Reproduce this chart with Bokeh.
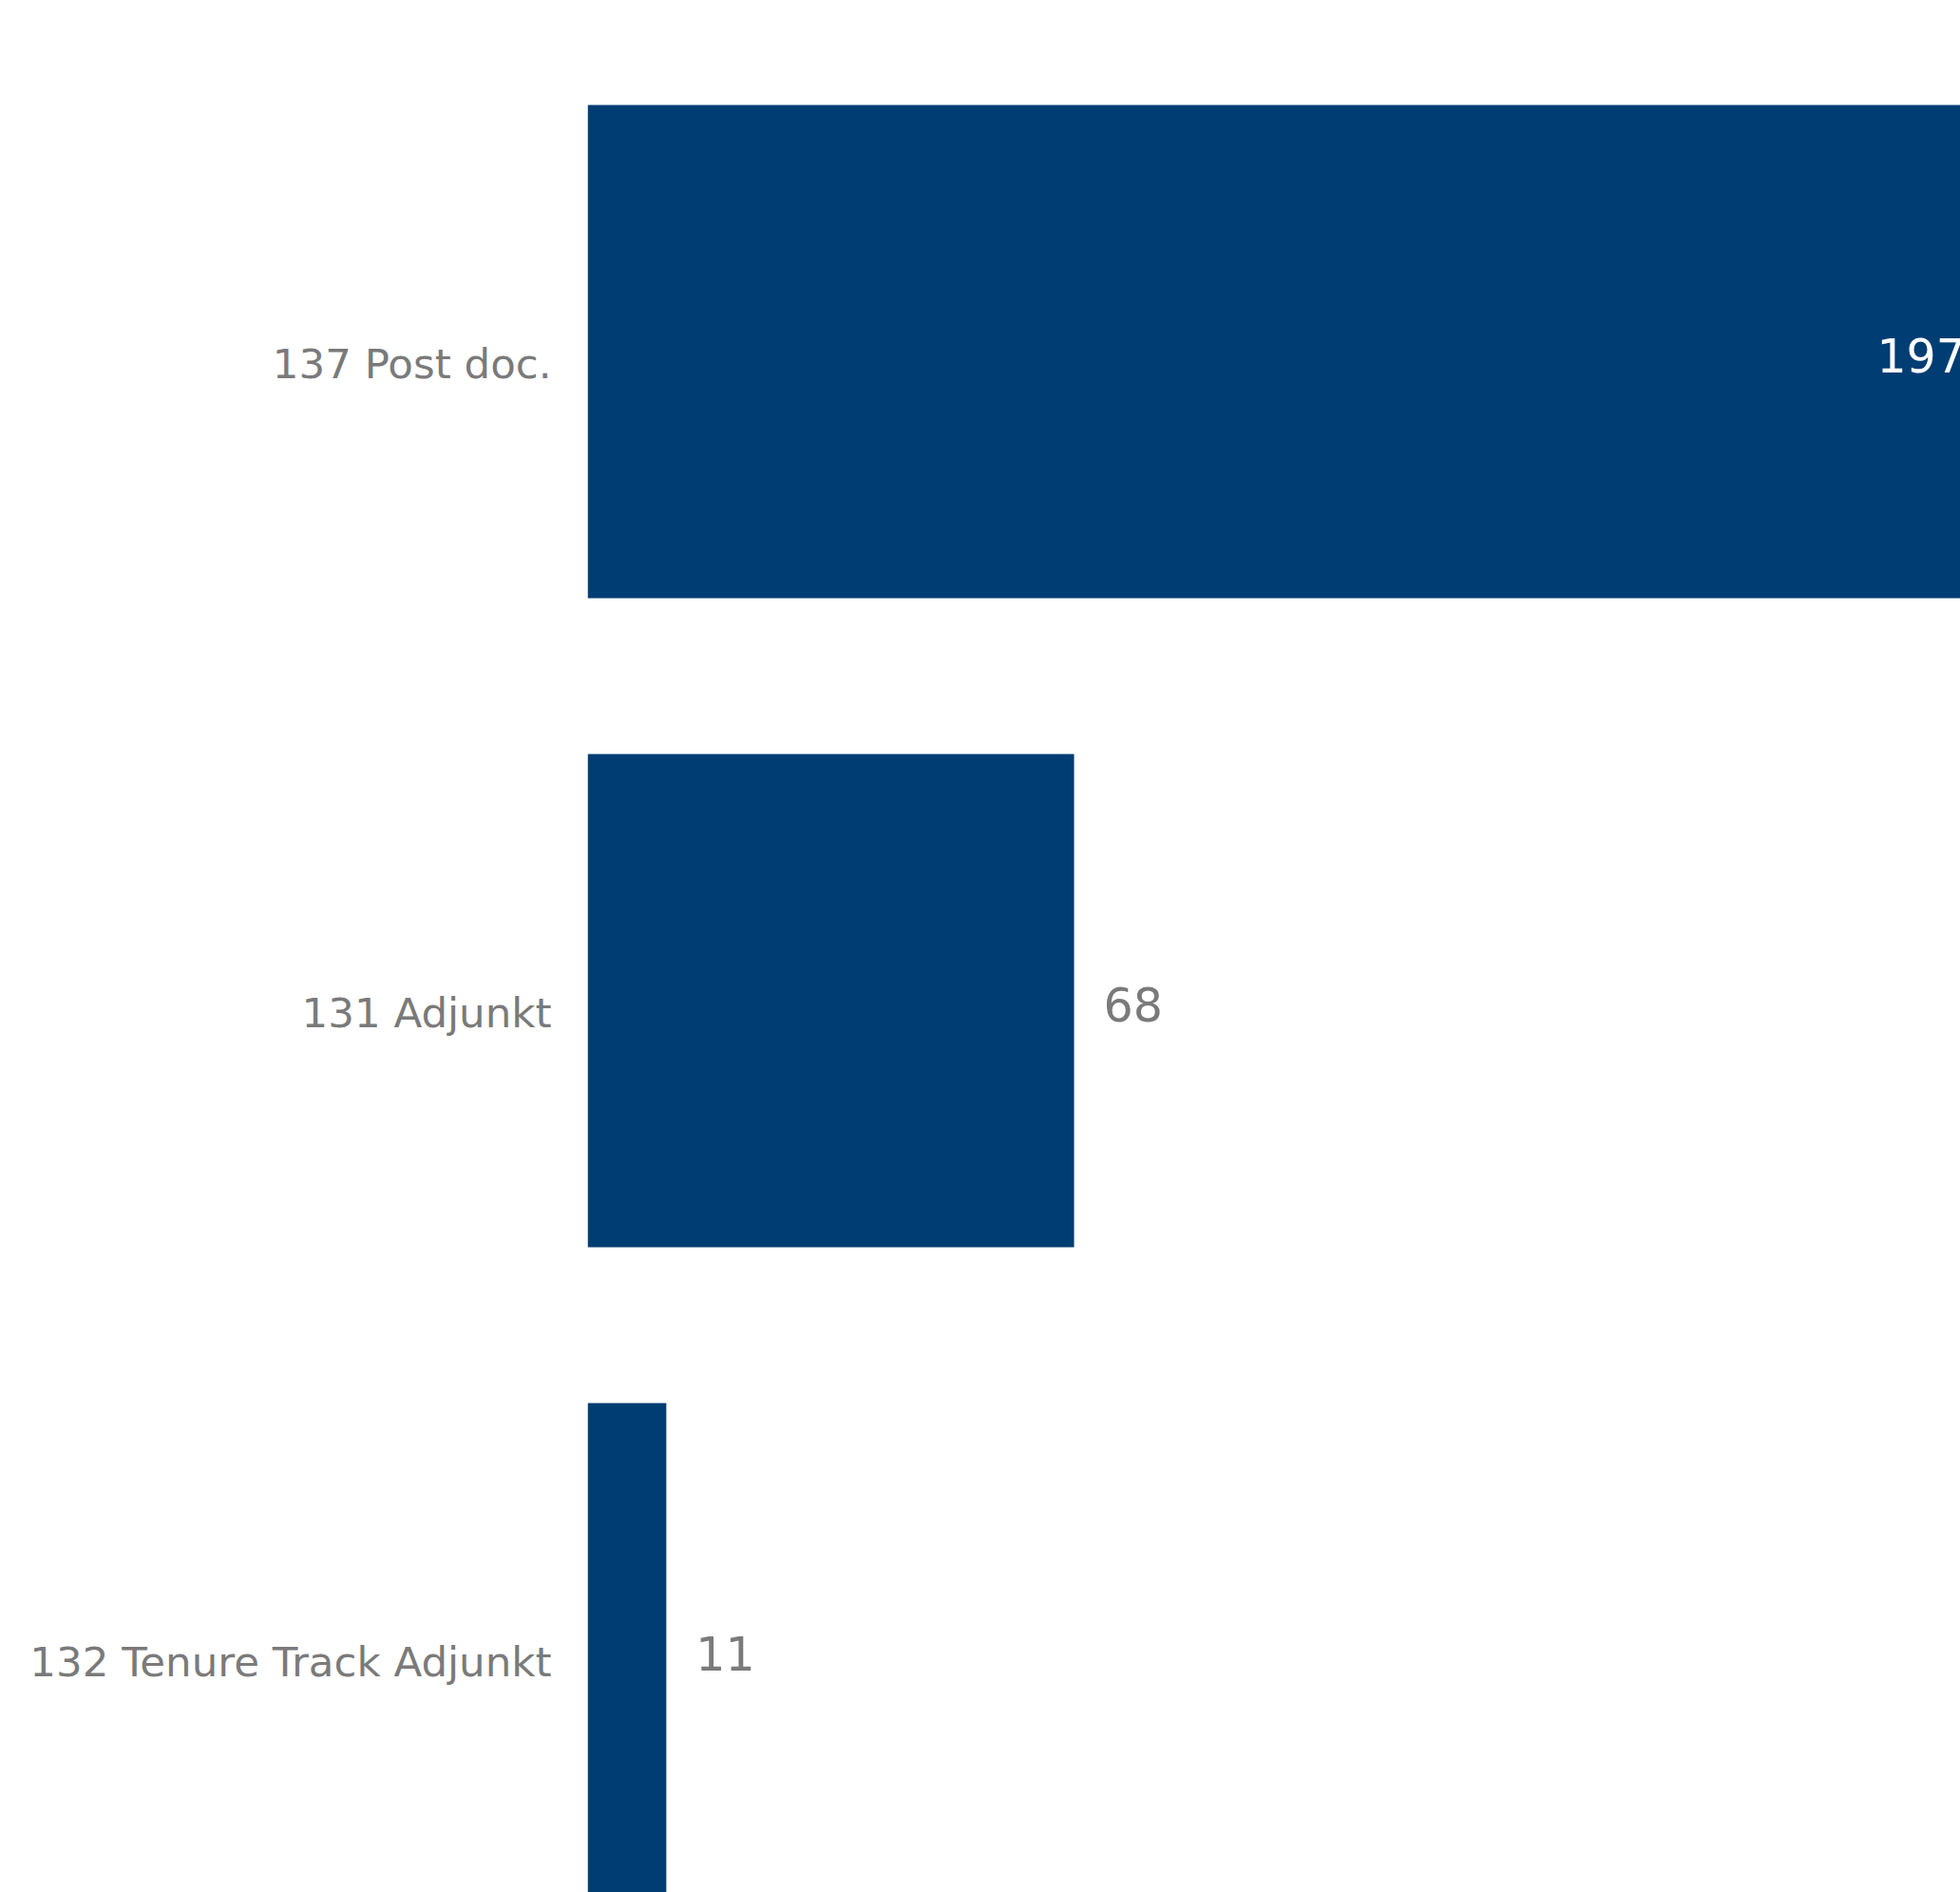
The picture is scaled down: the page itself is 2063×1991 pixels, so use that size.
from bokeh.plotting import figure
from bokeh.models import Range1d, FixedTicker, ColumnDataSource, CustomJSTickFormatter
from bokeh.embed import file_html
from bokeh.resources import INLINE
from bokeh.core.properties import value

categories = ["137 Post doc.", "131 Adjunkt", "132 Tenure Track Adjunkt"]
counts = [197, 68, 11]

n = len(categories)
ypos = [n - 1 - i for i in range(n)]
inside = [c >= 100 for c in counts]

BAR = "#003d73"
GREY = "#7a7a7a"
LABEL_SHIFT = 0.019  # category label sits slightly below bar centre

p = figure(width=2063, height=1991, output_backend="svg", toolbar_location=None,
           x_range=Range1d(0, 191.9), y_range=Range1d(-0.374, 2.541),
           min_border_left=618, min_border_right=0, min_border_top=0, min_border_bottom=0)

src = ColumnDataSource(dict(y=ypos, right=counts))
p.hbar(y="y", left=0, right="right", height=0.76, source=src, fill_color=BAR, line_color=None)

src_in = ColumnDataSource(dict(y=[ypos[i] for i in range(n) if inside[i]],
                               x=[counts[i] for i in range(n) if inside[i]],
                               t=[str(counts[i]) for i in range(n) if inside[i]]))
src_out = ColumnDataSource(dict(y=[ypos[i] for i in range(n) if not inside[i]],
                                x=[counts[i] for i in range(n) if not inside[i]],
                                t=[str(counts[i]) for i in range(n) if not inside[i]]))
p.text(x="x", y="y", text="t", source=src_in, text_align="right", text_baseline="middle",
       x_offset=-33, y_offset=4, text_color="white", text_font=value("DejaVu Sans"),
       text_font_size="49px")
p.text(x="x", y="y", text="t", source=src_out, text_align="left", text_baseline="middle",
       x_offset=31, y_offset=4, text_color=GREY, text_font=value("DejaVu Sans"),
       text_font_size="49px")

p.xaxis.visible = False
p.yaxis.ticker = FixedTicker(ticks=[y - LABEL_SHIFT for y in ypos])
p.yaxis.formatter = CustomJSTickFormatter(
    args=dict(labels=categories, n=n, shift=LABEL_SHIFT),
    code="const i = n - 1 - Math.round(tick + shift); return labels[i];")
p.yaxis.axis_line_color = None
p.yaxis.major_tick_line_color = None
p.yaxis.minor_tick_line_color = None
p.yaxis.major_tick_out = 0
p.yaxis.major_tick_in = 0
p.yaxis.major_label_standoff = 38
p.yaxis.major_label_text_font = "DejaVu Sans"
p.yaxis.major_label_text_font_size = "43.5px"
p.yaxis.major_label_text_color = GREY
p.xgrid.visible = False
p.ygrid.visible = False
p.outline_line_color = None
p.background_fill_color = "white"
p.border_fill_color = "white"

open("out.html", "w").write(file_html(p, INLINE))
